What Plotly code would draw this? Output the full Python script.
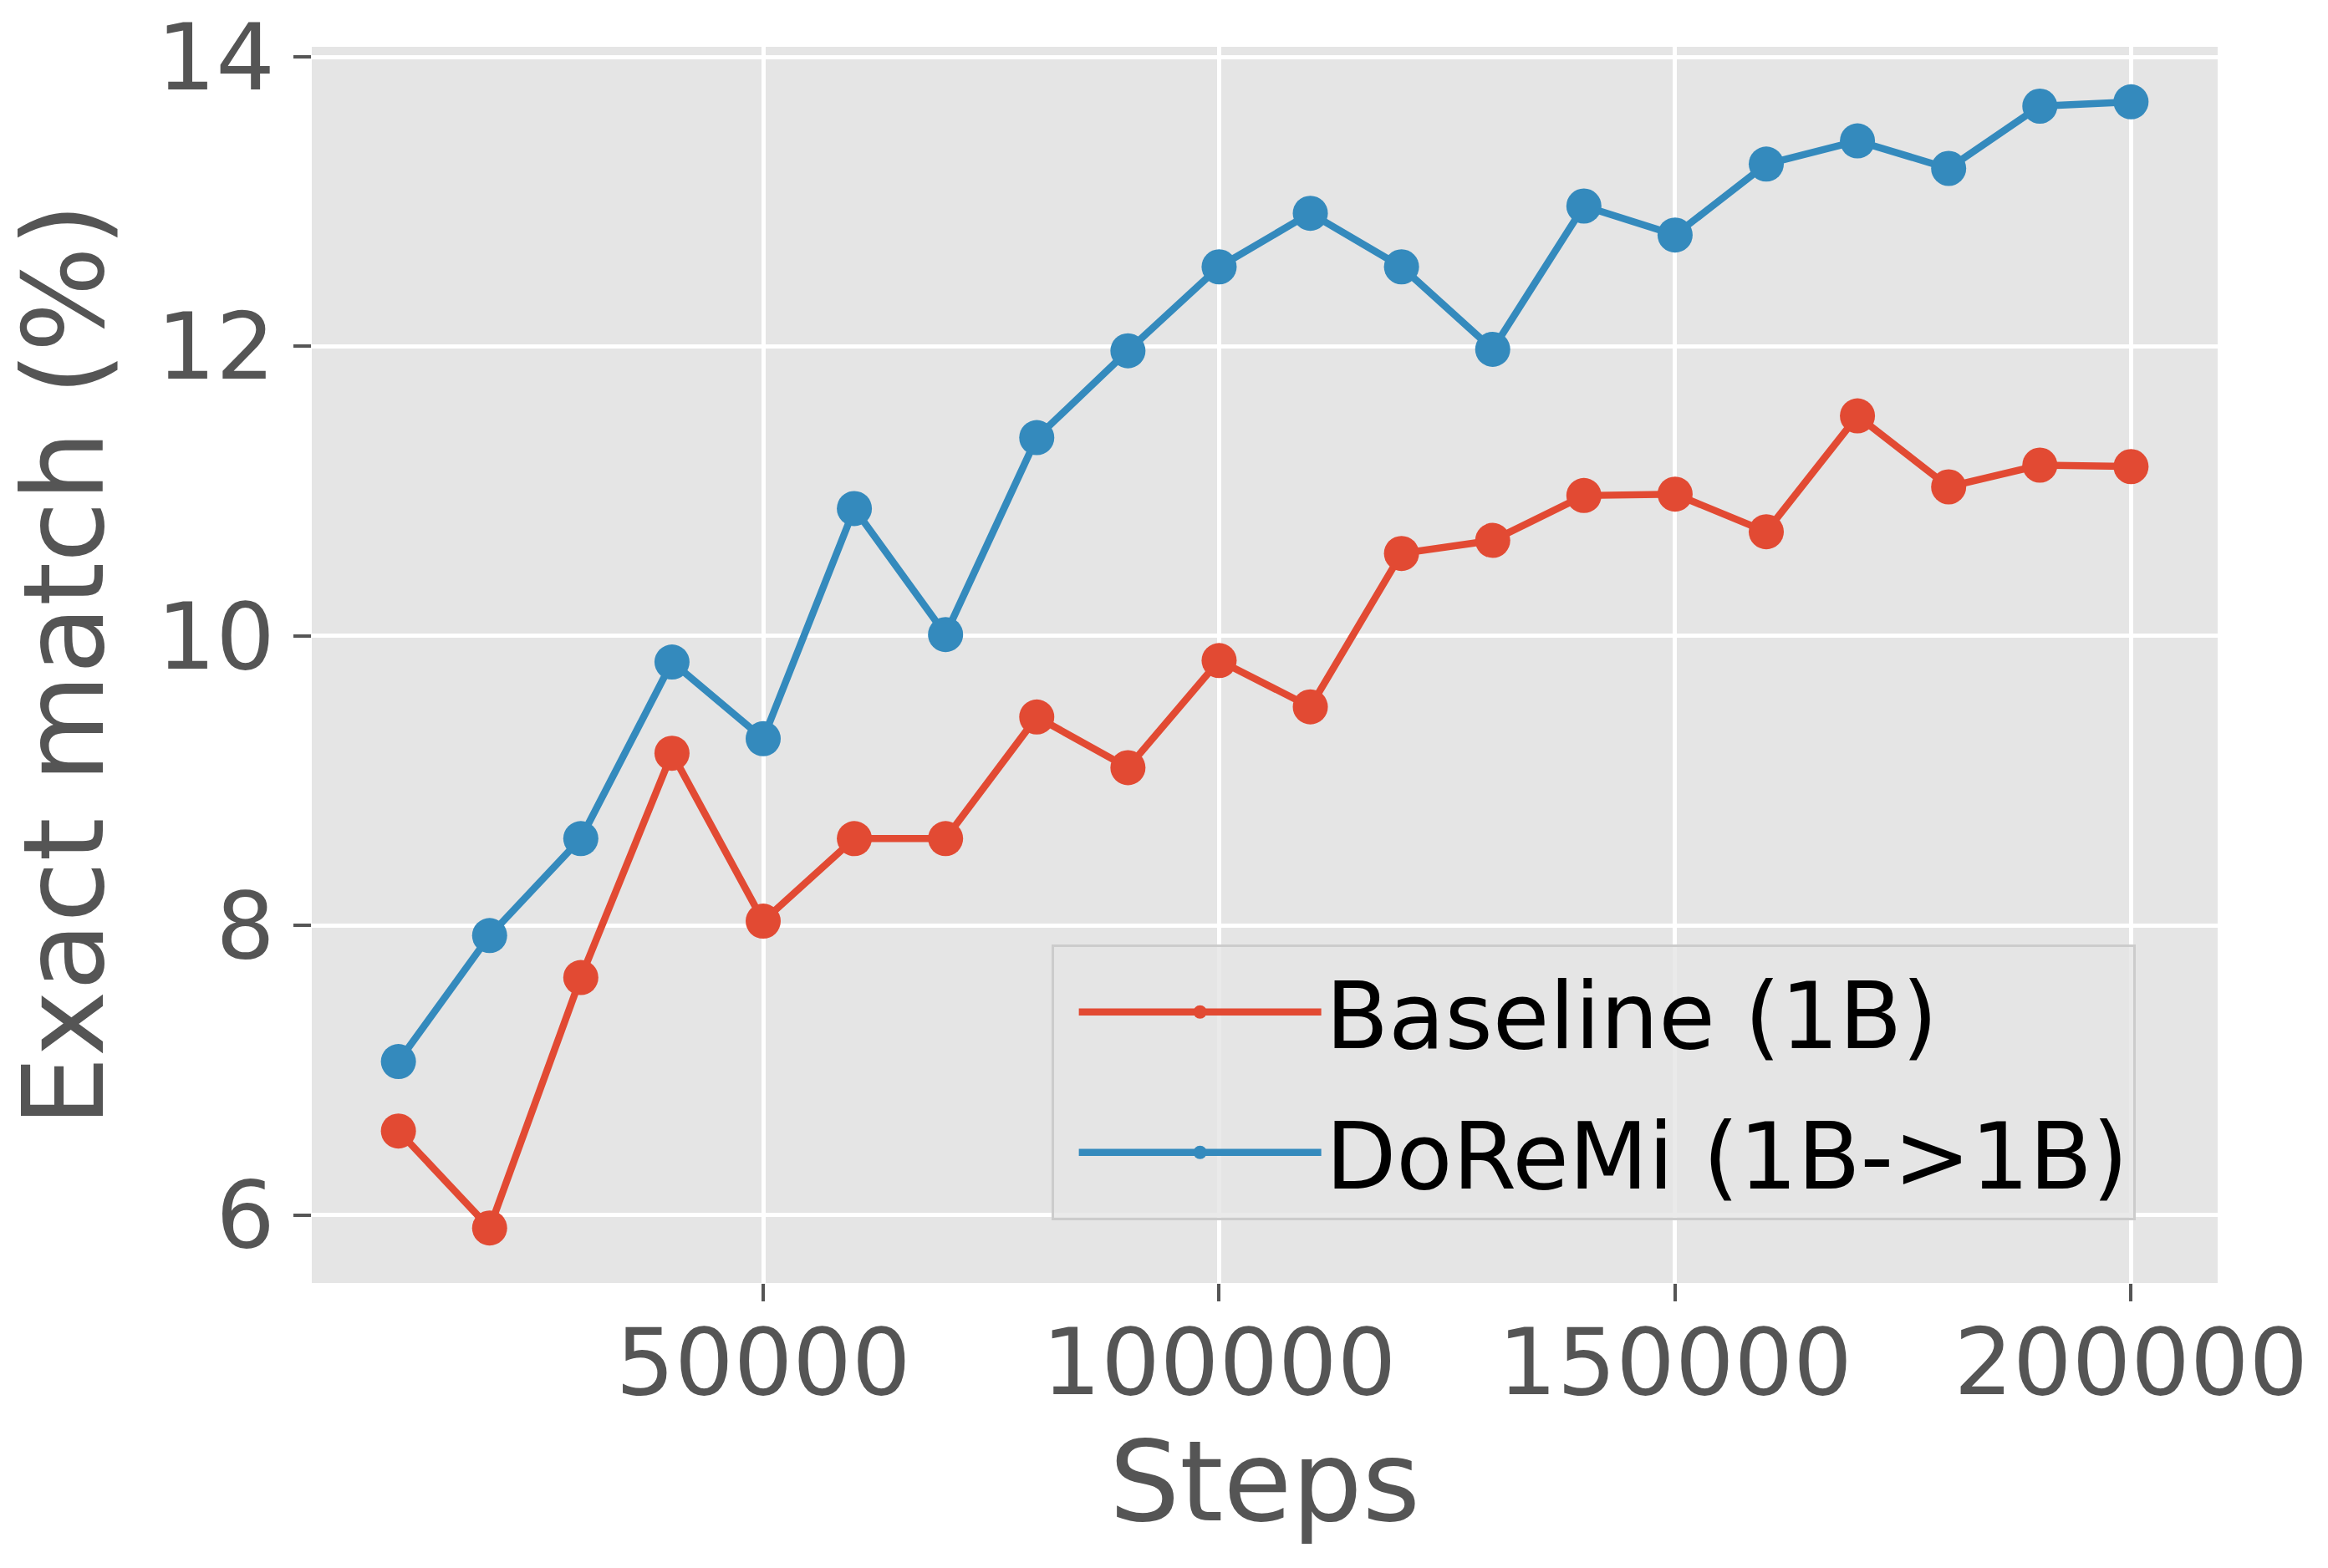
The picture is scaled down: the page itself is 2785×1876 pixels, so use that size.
import plotly.graph_objects as go

steps = [10000, 20000, 30000, 40000, 50000, 60000, 70000, 80000, 90000, 100000,
         110000, 120000, 130000, 140000, 150000, 160000, 170000, 180000, 190000, 200000]
baseline = [6.58, 5.91, 7.64, 9.19, 8.03, 8.60, 8.60, 9.44, 9.09, 9.83,
            9.51, 10.57, 10.66, 10.97, 10.98, 10.72, 11.52, 11.03, 11.18, 11.17]
doremi = [7.06, 7.93, 8.60, 9.82, 9.29, 10.88, 10.01, 11.37, 11.97, 12.55,
          12.92, 12.55, 11.98, 12.97, 12.77, 13.26, 13.42, 13.23, 13.66, 13.69]
series_names = ["Baseline (1B)", "DoReMi (1B->1B)"]
x_ticks = [50000, 100000, 150000, 200000]
y_ticks = [6, 8, 10, 12, 14]

RED = "#E24A33"
BLUE = "#348ABD"
GRAY = "#555555"
FONT = "DejaVu Sans"

fig = go.Figure()
for name, vals, col, grp in [(series_names[0], baseline, RED, "a"),
                             (series_names[1], doremi, BLUE, "b")]:
    fig.add_trace(go.Scatter(
        x=steps, y=vals, name=name, mode="lines+markers", legendgroup=grp,
        line=dict(color=col, width=8.5),
        marker=dict(color=col, size=42),
    ))

fig.update_layout(
    width=2785, height=1876,
    margin=dict(l=373, r=132, t=56, b=341),
    paper_bgcolor="white", plot_bgcolor="#E5E5E5",
    font=dict(family=FONT, color=GRAY, size=111),
    showlegend=True,
    legend=dict(
        x=0.388, y=0.274, xanchor="left", yanchor="top",
        bgcolor="rgba(229,229,229,0.8)", bordercolor="#CCCCCC", borderwidth=3,
        font=dict(family=FONT, color="black", size=110),
        itemwidth=290, indentation=25, tracegroupgap=22,
    ),
    xaxis=dict(
        range=[500, 209500], tickvals=x_ticks, tickformat="d",
        showgrid=True, gridcolor="white", gridwidth=5, zeroline=False,
        ticks="outside", ticklen=21, tickwidth=4, tickcolor=GRAY,
        ticklabelstandoff=-22, automargin=False,
        tickfont=dict(family=FONT, color=GRAY, size=111),
        title=dict(text="Steps", font=dict(family=FONT, color=GRAY, size=133), standoff=32),
        showline=False,
    ),
    yaxis=dict(
        range=[5.53, 14.07], tickvals=y_ticks,
        showgrid=True, gridcolor="white", gridwidth=5, zeroline=False,
        ticks="outside", ticklen=21, tickwidth=4, tickcolor=GRAY,
        ticklabelstandoff=0, automargin=False,
        tickfont=dict(family=FONT, color=GRAY, size=111),
        title=dict(text="Exact match (%)", font=dict(family=FONT, color=GRAY, size=133), standoff=50),
        showline=False,
    ),
)

fig.write_html("out.html")
